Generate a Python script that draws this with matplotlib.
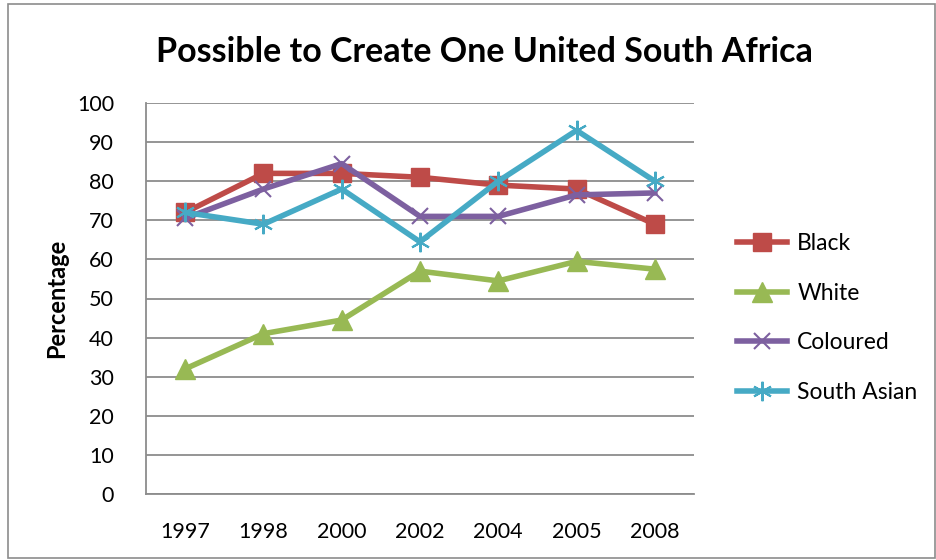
import matplotlib.pyplot as plt
from matplotlib.patches import Rectangle

# Survey values
years = ["1997", "1998", "2000", "2002", "2004", "2005", "2008"]
black = [72, 82, 82, 81, 79, 78, 69]
white = [32, 41, 44.5, 57, 54.5, 59.5, 57.5]
coloured = [70.5, 78, 84.5, 71, 71, 76.5, 77]
south_asian = [72, 69, 78, 64.5, 80, 93, 80]

plt.rcParams['font.family'] = ['Lato', 'DejaVu Sans']

fig = plt.figure(figsize=(9.37, 5.6), dpi=100)
ax = fig.add_axes([146 / 937, 1 - 494 / 560, 548 / 937, 391 / 560])

# outer chart border
fig.patches.append(Rectangle((8 / 937, 2 / 560), 927 / 937, 554 / 560,
                             transform=fig.transFigure, fill=False,
                             edgecolor='#8c8c8c', linewidth=1.2))

x = range(len(years))
ax.plot(x, black, color='#be4b48', linewidth=4, marker='s', markersize=12.5,
        label='Black')
ax.plot(x, white, color='#98b954', linewidth=4, marker='^', markersize=14.5,
        label='White')
ax.plot(x, coloured, color='#7d60a0', linewidth=4, marker='x', markersize=12,
        markeredgewidth=1.5, label='Coloured')
ax.plot(x, south_asian, color='#46aac5', linewidth=4, marker=(6, 2, 0),
        markersize=14, markeredgewidth=1.5, label='South Asian')

ax.set_xlim(-0.5, len(years) - 0.5)
ax.set_ylim(0, 100)
ax.set_yticks(range(0, 101, 10))
ax.set_xticks(list(x))
ax.set_xticklabels(years)
ax.tick_params(axis='both', length=0, labelsize=15.5, colors='black')
ax.tick_params(axis='x', pad=20)
ax.tick_params(axis='y', pad=23)
ax.yaxis.grid(True, color='#8c8c8c', linewidth=1.3)
ax.set_axisbelow(True)
for side in ['top', 'right']:
    ax.spines[side].set_visible(False)
for side in ['left', 'bottom']:
    ax.spines[side].set_color('#8c8c8c')
    ax.spines[side].set_linewidth(1.3)

ax.set_ylabel('Percentage', fontsize=17, fontweight='bold', labelpad=6)
fig.text(484 / 937, 1 - 52 / 560, 'Possible to Create One United South Africa',
         ha='center', va='center', fontsize=24.5, fontweight='bold')

ax.legend(loc='center left', bbox_to_anchor=(1.04, 0.45), frameon=False,
          fontsize=16.5, labelspacing=1.25, handlelength=2.2, handletextpad=0.45)

fig.savefig('out.png', dpi=100)
